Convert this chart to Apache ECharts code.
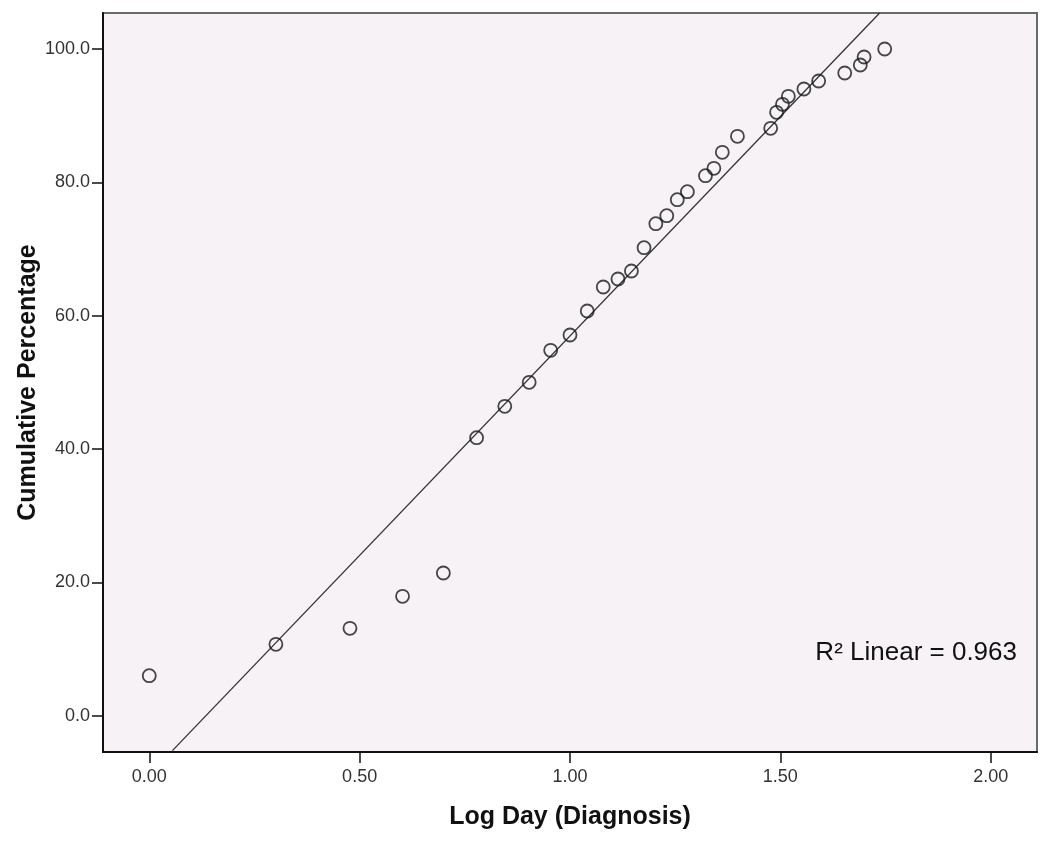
<!DOCTYPE html>
<html>
<head>
<meta charset="utf-8">
<script src="https://cdn.jsdelivr.net/npm/echarts@6/dist/echarts.min.js"></script>
<style>
  html, body { margin: 0; padding: 0; background: #ffffff; }
  #chart { width: 1050px; height: 848px; }
</style>
</head>
<body>
<div id="chart"></div>
<script>
// Log10 of day of diagnosis
const logDay = [0.000, 0.301, 0.477, 0.602, 0.699, 0.778, 0.845, 0.903, 0.954, 1.000,
  1.041, 1.079, 1.114, 1.146, 1.176, 1.204, 1.230, 1.255, 1.279, 1.322,
  1.342, 1.362, 1.398, 1.477, 1.491, 1.505, 1.519, 1.556, 1.591, 1.653,
  1.690, 1.699, 1.748];
// Cumulative percentage
const cumPct = [6.0, 10.7, 13.1, 17.9, 21.4, 41.7, 46.4, 50.0, 54.8, 57.1,
  60.7, 64.3, 65.5, 66.7, 70.2, 73.8, 75.0, 77.4, 78.6, 81.0,
  82.1, 84.5, 86.9, 88.1, 90.5, 91.7, 92.9, 94.0, 95.2, 96.4,
  97.6, 98.8, 100.0];
// Fit line endpoints
const fitX = [0.055, 1.736];
const fitY = [-5.25, 105.4];
const xTicks = [0, 0.5, 1.0, 1.5, 2.0];
const yTicks = [0, 20, 40, 60, 80, 100];
const r2Label = 'R² Linear = 0.963';

const chart = echarts.init(document.getElementById('chart'), null, { renderer: 'canvas' });
const font = '"Liberation Sans", Arial, sans-serif';

chart.setOption({
  animation: false,
  backgroundColor: '#ffffff',
  grid: {
    left: 103, top: 13, right: 13, bottom: 96,
    show: true,
    backgroundColor: '#F6F2F6',
    borderColor: '#6a6a6a',
    borderWidth: 2
  },
  xAxis: {
    type: 'value',
    min: -0.11, max: 2.11,
    name: 'Log Day (Diagnosis)',
    nameLocation: 'middle',
    nameGap: 53,
    nameMoveOverlap: false,
    nameTextStyle: { fontFamily: font, fontSize: 25, fontWeight: 'bold', color: '#111' },
    axisLine: { show: true, onZero: false, lineStyle: { color: '#111', width: 2 } },
    axisTick: { show: true, length: 11, lineStyle: { color: '#111', width: 1.5 }, customValues: xTicks },
    axisLabel: {
      fontFamily: font, fontSize: 18, color: '#333', margin: 16,
      customValues: xTicks,
      formatter: v => v.toFixed(2)
    },
    splitLine: { show: false }
  },
  yAxis: {
    type: 'value',
    min: -5.45, max: 105.4,
    name: 'Cumulative Percentage',
    nameLocation: 'middle',
    nameGap: 62,
    nameMoveOverlap: false,
    nameTextStyle: { fontFamily: font, fontSize: 25, fontWeight: 'bold', color: '#111' },
    axisLine: { show: true, onZero: false, lineStyle: { color: '#111', width: 2 } },
    axisTick: { show: true, length: 11, lineStyle: { color: '#111', width: 1.5 }, customValues: yTicks },
    axisLabel: {
      fontFamily: font, fontSize: 18, color: '#333', margin: 13,
      customValues: yTicks,
      formatter: v => v.toFixed(1)
    },
    splitLine: { show: false }
  },
  series: [
    {
      type: 'line',
      data: fitX.map((x, i) => [x, fitY[i]]),
      symbol: 'none',
      clip: true,
      lineStyle: { color: '#333', width: 1.3 },
      z: 2
    },
    {
      type: 'scatter',
      data: logDay.map((x, i) => [x, cumPct[i]]),
      symbol: 'circle',
      symbolSize: 13,
      itemStyle: { color: 'rgba(0,0,0,0)', borderColor: '#1a1a1a', borderWidth: 1.8 },
      z: 3
    }
  ],
  graphic: [
    {
      type: 'text',
      right: 33,
      top: 640,
      style: {
        text: r2Label,
        font: '26px ' + font,
        fill: '#111'
      }
    }
  ]
});
</script>
</body>
</html>
